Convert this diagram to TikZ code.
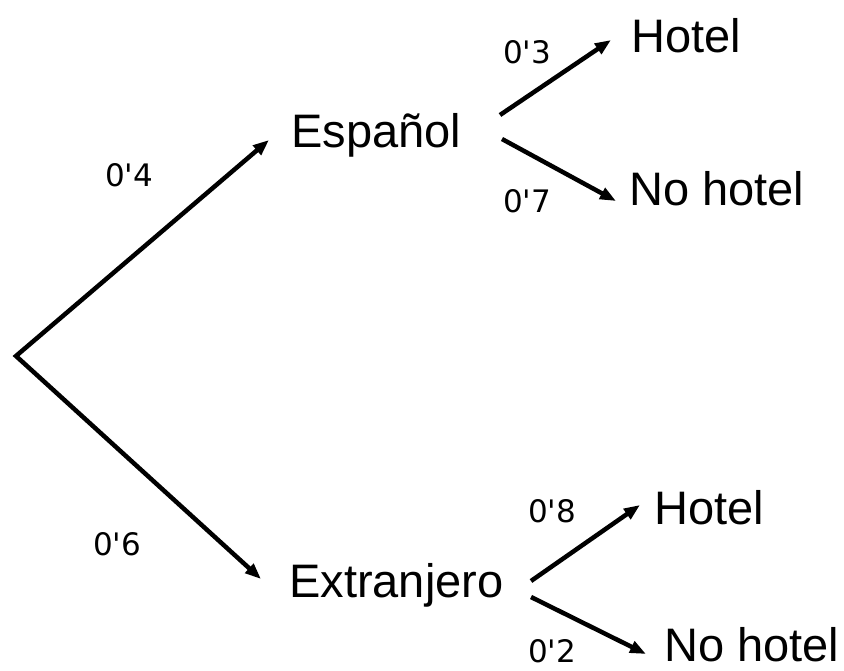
\documentclass[tikz,border=0pt]{standalone}
\usepackage{fontspec}
\setmainfont{Liberation Sans}
\newfontfamily\lblfont{DejaVu Sans}
\usetikzlibrary{arrows.meta}
\tikzset{
  lbl/.style={font=\lblfont\fontsize{31}{34}\selectfont, inner sep=0pt},
  word/.style={font=\fontsize{47}{52}\selectfont, inner sep=0pt, anchor=base west},
  branch/.style={line width=4.5pt, -{Triangle[length=16pt,width=12pt]}},
  trunk/.style={line width=4.5pt, {Triangle[length=16pt,width=12pt]}-{Triangle[length=16pt,width=12pt]}, line join=miter}
}
\begin{document}
\begin{tikzpicture}[x=1pt,y=-1pt]
\useasboundingbox (0,0) rectangle (844,670);
% words
\node[word] (esp) at (291,147) {Español};
\node[word] (ext) at (289,597) {Extranjero};
\node[word] (h1) at (631,52) {Hotel};
\node[word] (n1) at (629,205) {No hotel};
\node[word] (h2) at (654,524) {Hotel};
\node[word] (n2) at (664,661) {No hotel};
% probability labels
\node[lbl] (p4) at (129,175) {0'4};
\node[lbl] (p6) at (117,544) {0'6};
\node[lbl] (p3) at (527,52) {0'3};
\node[lbl] (p7) at (527,201) {0'7};
\node[lbl] (p8) at (552,511) {0'8};
\node[lbl] (p2) at (552,651) {0'2};
% connector endpoints
\coordinate (root) at (16,356);
\coordinate (espin) at (269,140);
\coordinate (extin) at (261,579);
\coordinate (espa) at (500,115);
\coordinate (espb) at (502,139);
\coordinate (exta) at (531,581);
\coordinate (extb) at (531,597);
\coordinate (h1in) at (611,40);
\coordinate (n1in) at (616,201);
\coordinate (h2in) at (640,505);
\coordinate (n2in) at (646,654);
% connectors
\draw[trunk] (espin) -- (root) -- (extin);
\draw[branch] (espa) -- (h1in);
\draw[branch] (espb) -- (n1in);
\draw[branch] (exta) -- (h2in);
\draw[branch] (extb) -- (n2in);
\end{tikzpicture}
\end{document}
